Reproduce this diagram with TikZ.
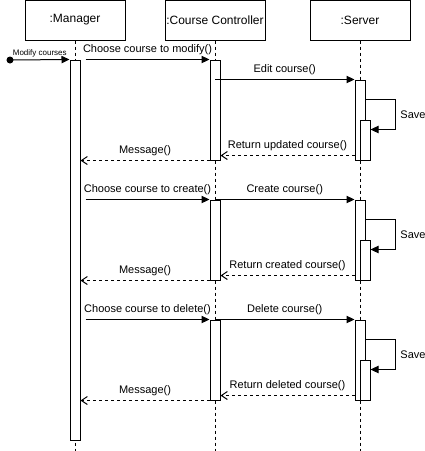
\documentclass[tikz,border=0pt]{standalone}
\usepackage{fontspec}
\setmainfont{Liberation Sans}
\usetikzlibrary{arrows.meta,calc}
\begin{document}
\begin{tikzpicture}[x=.75pt,y=-.75pt,line width=.75pt,font=\fontsize{8.25}{10}\selectfont,
  head/.style={draw,minimum width=75pt,minimum height=30pt,inner sep=0pt,font=\fontsize{9}{11}\selectfont},
  act/.style={draw,fill=white,minimum width=7.5pt,inner sep=0pt},
  life/.style={dash pattern=on 2.25pt off 2.25pt},
  call/.style={-{Triangle[length=6pt,width=5.5pt]}},
  reply/.style={dash pattern=on 2.25pt off 2.25pt,-{Straight Barb[length=4.5pt,width=6pt]}}]
\useasboundingbox (0,0) rectangle (425,451);
\node[head] (mgr) at (75,20) {:Manager};
\node[head] (ctl) at (215,20) {:Course Controller};
\node[head] (srv) at (360,20) {:Server};
\coordinate (bot) at (0,451);
\foreach \n in {mgr,ctl,srv}
  \draw[life] (\n.south) -- (\n.south |- bot);
\node[act,minimum height=285pt] (mgrA) at (75,250) {};
\node[circle,fill,inner sep=0pt,minimum size=5.25pt] (start) at (10,60) {};
\draw[call] (start.center) -- (mgrA.north west) node[midway,above,inner sep=1.5pt,font=\fontsize{6}{7}\selectfont]{Modify courses};
\foreach \i/\c/\s/\v/\r/\e in {1/60/80/modify/updated/Edit,2/200/200/create/created/Create,3/320/320/delete/deleted/Delete}{
  \node[act,minimum height={(\s+80-\c)*.75pt}] (ctlA\i) at (215,{(\c+\s+80)/2}) {};
  \node[act,minimum height=60pt] (srvA\i) at (360,\s+40) {};
  \node[act,minimum height=30pt] (srvB\i) at (365,\s+60) {};
  \draw[call] ($(mgrA.east |- ctlA\i.north)+(5,0)$) -- (ctlA\i.north west) node[midway,above]{Choose course to \v()};
  \draw[call] (ctlA\i.center |- srvA\i.north) -- (srvA\i.north west) node[midway,above]{\e\ course()};
  \draw[call] ([yshift=-15pt]srvA\i.north east) -- ++(30,0) |- ([yshift=-7.5pt]srvB\i.north east) node[pos=.25,right]{Save};
  \draw[reply] ([yshift=3.75pt]srvA\i.south west) -- ([yshift=3.75pt]ctlA\i.south east) node[midway,above]{Return \r\ course()};
  \draw[reply] (ctlA\i.south west) -- (mgrA.east |- ctlA\i.south) node[midway,above]{Message()};
}
\end{tikzpicture}
\end{document}
